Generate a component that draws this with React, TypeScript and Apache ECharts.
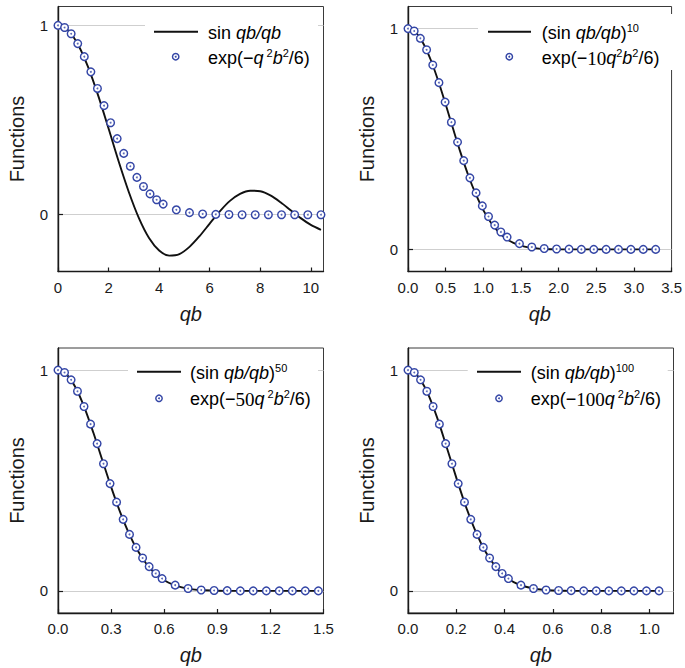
import React, { useEffect, useRef } from 'react';
import * as echarts from 'echarts';

// ---- data ----
// Circle heights (identical in all four panels)
const circleY = [1, 0.989, 0.956, 0.904, 0.835, 0.755, 0.667, 0.576, 0.486, 0.402, 0.324, 0.256, 0.197, 0.149, 0.11, 0.079, 0.056, 0.026, 0.011, 0.004, 0.002, 0.001, 0, 0, 0, 0, 0, 0, 0];

const p1CircleX = [0, 0.26, 0.52, 0.78, 1.04, 1.3, 1.56, 1.82, 2.08, 2.34, 2.6, 2.86, 3.12, 3.38, 3.64, 3.9, 4.16, 4.68, 5.2, 5.72, 6.24, 6.76, 7.28, 7.8, 8.32, 8.84, 9.36, 9.88, 10.4];
const p2CircleX = [0, 0.082, 0.164, 0.247, 0.329, 0.411, 0.493, 0.576, 0.658, 0.74, 0.822, 0.904, 0.987, 1.069, 1.151, 1.233, 1.316, 1.48, 1.644, 1.809, 1.973, 2.138, 2.302, 2.467, 2.631, 2.795, 2.96, 3.124, 3.289];
const p3CircleX = [0, 0.037, 0.074, 0.11, 0.147, 0.184, 0.221, 0.257, 0.294, 0.331, 0.368, 0.404, 0.441, 0.478, 0.515, 0.552, 0.588, 0.662, 0.735, 0.809, 0.882, 0.956, 1.03, 1.103, 1.177, 1.25, 1.324, 1.397, 1.471];
const p4CircleX = [0, 0.026, 0.052, 0.078, 0.104, 0.13, 0.156, 0.182, 0.208, 0.234, 0.26, 0.286, 0.312, 0.338, 0.364, 0.39, 0.416, 0.468, 0.52, 0.572, 0.624, 0.676, 0.728, 0.78, 0.832, 0.884, 0.936, 0.988, 1.04];

const p1LineX = [0, 0.4, 0.8, 1.2, 1.6, 2.0, 2.4, 2.8, 3.2, 3.6, 4.0, 4.4, 4.8, 5.2, 5.6, 6.0, 6.4, 6.8, 7.2, 7.6, 8.0, 8.4, 8.8, 9.2, 9.6, 10.0, 10.4];
const p1LineY = [1, 0.974, 0.897, 0.777, 0.625, 0.455, 0.281, 0.12, -0.018, -0.123, -0.189, -0.216, -0.208, -0.17, -0.113, -0.047, 0.018, 0.073, 0.11, 0.127, 0.124, 0.102, 0.066, 0.024, -0.018, -0.054, -0.08];

const p2LineX = [0, 0.1, 0.2, 0.3, 0.4, 0.5, 0.6, 0.7, 0.8, 0.9, 1.0, 1.1, 1.2, 1.3, 1.4, 1.5, 1.6, 1.7, 1.8, 2.0, 2.5, 3.0, 3.29];
const p2LineY = [1, 0.984, 0.935, 0.86, 0.765, 0.657, 0.545, 0.436, 0.336, 0.25, 0.178, 0.122, 0.08, 0.05, 0.03, 0.017, 0.009, 0.005, 0.002, 0.0004, 0, 0, 0];

const p3LineX = [0, 0.05, 0.1, 0.15, 0.2, 0.25, 0.3, 0.35, 0.4, 0.45, 0.5, 0.55, 0.6, 0.65, 0.7, 0.75, 0.8, 0.9, 1.0, 1.2, 1.47];
const p3LineY = [1, 0.979, 0.92, 0.829, 0.716, 0.593, 0.471, 0.359, 0.262, 0.183, 0.122, 0.078, 0.048, 0.028, 0.016, 0.008, 0.004, 0.001, 0, 0, 0];

const p4LineX = [0, 0.04, 0.08, 0.12, 0.16, 0.2, 0.24, 0.28, 0.32, 0.36, 0.4, 0.44, 0.48, 0.52, 0.56, 0.6, 0.7, 0.8, 1.04];
const p4LineY = [1, 0.974, 0.899, 0.787, 0.652, 0.513, 0.382, 0.27, 0.18, 0.114, 0.068, 0.039, 0.021, 0.011, 0.005, 0.002, 0.0003, 0, 0];

const yTickValues = [0, 1];

// ---- styling ----
const BLUE = '#3446a6';
const INK = '#1a1a1a';
const FONT = "'Liberation Sans', Arial, Helvetica, sans-serif";
const SERIF = "'Liberation Serif', 'Times New Roman', serif";

const rich = {
  n: { fontFamily: FONT, fontSize: 18, color: INK, lineHeight: 22, verticalAlign: 'middle' },
  i: { fontFamily: FONT, fontSize: 18, fontStyle: 'italic', color: INK, lineHeight: 22, verticalAlign: 'middle' },
  s: { fontFamily: SERIF, fontSize: 19, color: INK, lineHeight: 22, verticalAlign: 'middle' },
  sup: { fontFamily: FONT, fontSize: 11, color: INK, lineHeight: 11, verticalAlign: 'top' },
};

const panels = [
  {
    left: 58, top: 6.5, xMax: 10.5, xInterval: 2, digits: 0, hideMax: true, yMin: -0.3,
    lineX: p1LineX, lineY: p1LineY, circX: p1CircleX,
    lineLabel: '{n|sin }{i|qb/qb}',
    circLabel: '{n|exp(−}{i|q}{sup| 2}{i|b}{sup|2}{n|/6)}',
    lg: { rx: 145, ry: 14, rw: 173, rh: 56, l0: 154, l1: 198, ly: 31.7, cx: 175.7, cy: 56.7, tx: 208, t1: 33, t2: 58 },
  },
  {
    left: 408, top: 6.5, xMax: 3.5, xInterval: 0.5, digits: 1, hideMax: false, yMin: -0.1,
    lineX: p2LineX, lineY: p2LineY, circX: p2CircleX,
    lineLabel: '{n|(sin }{i|qb/qb}{n|)}{sup|10}',
    circLabel: '{n|exp(−}{s|10}{i|q}{sup|2}{i|b}{sup|2}{n|/6)}',
    lg: { rx: 478, ry: 14, rw: 195, rh: 56, l0: 488, l1: 531, ly: 31.7, cx: 509.3, cy: 56.7, tx: 541.7, t1: 33, t2: 58 },
  },
  {
    left: 58, top: 348, xMax: 1.5, xInterval: 0.3, digits: 1, hideMax: false, yMin: -0.1,
    lineX: p3LineX, lineY: p3LineY, circX: p3CircleX,
    lineLabel: '{n|(sin }{i|qb/qb}{n|)}{sup|50}',
    circLabel: '{n|exp(−}{s|50}{i|q}{sup| 2}{i|b}{sup|2}{n|/6)}',
    lg: { rx: 128, ry: 356, rw: 190, rh: 56, l0: 137, l1: 181, ly: 371.7, cx: 159, cy: 398.3, tx: 190, t1: 373, t2: 399 },
  },
  {
    left: 408, top: 348, xMax: 1.1, xInterval: 0.2, digits: 1, hideMax: true, yMin: -0.1,
    lineX: p4LineX, lineY: p4LineY, circX: p4CircleX,
    lineLabel: '{n|(sin }{i|qb/qb}{n|)}{sup|100}',
    circLabel: '{n|exp(−}{s|100}{i|q}{sup| 2}{i|b}{sup|2}{n|/6)}',
    lg: { rx: 467.7, ry: 356, rw: 200, rh: 56, l0: 477, l1: 521, ly: 371.7, cx: 499, cy: 398.3, tx: 530.7, t1: 373, t2: 399 },
  },
];

const GRID_W = 265.5;
const GRID_H = 265;

function buildOption() {
  const grid: any[] = [];
  const xAxis: any[] = [];
  const yAxis: any[] = [];
  const series: any[] = [];
  const graphic: any[] = [];

  panels.forEach((p, i) => {
    grid.push({
      left: p.left, top: p.top, width: GRID_W, height: GRID_H,
      show: true, borderColor: '#3a3a3a', borderWidth: 1, backgroundColor: 'transparent',
    });
    xAxis.push({
      gridIndex: i, type: 'value', min: 0, max: p.xMax, interval: p.xInterval,
      axisLine: { show: true, onZero: false, lineStyle: { color: INK, width: 1.4 } },
      axisTick: { show: true, inside: true, length: 4, lineStyle: { color: INK, width: 1.2 } },
      axisLabel: {
        fontFamily: FONT, fontSize: 15, color: INK, margin: 8, showMaxLabel: !p.hideMax,
        formatter: (v: number) => v.toFixed(p.digits),
      },
      splitLine: { show: false },
      name: 'qb', nameLocation: 'middle', nameGap: 32,
      nameTextStyle: { fontFamily: FONT, fontSize: 20, fontStyle: 'italic', color: INK },
    });
    yAxis.push({
      gridIndex: i, type: 'value', min: p.yMin, max: 1.1,
      axisLine: { show: true, onZero: false, lineStyle: { color: INK, width: 1.4 } },
      axisTick: { show: true, inside: true, length: 5, customValues: yTickValues, lineStyle: { color: INK, width: 1.2 } },
      axisLabel: { fontFamily: FONT, fontSize: 15, color: INK, margin: 10, customValues: yTickValues, formatter: (v: number) => String(v) },
      splitLine: { show: true, lineStyle: { color: '#cfcfcf', width: 1 } },
      name: 'Functions', nameLocation: 'middle', nameGap: 31,
      nameTextStyle: { fontFamily: FONT, fontSize: 20, color: INK },
    });
    series.push({
      type: 'line', name: 'line' + i, xAxisIndex: i, yAxisIndex: i,
      data: p.lineX.map((x, k) => [x, p.lineY[k]]),
      showSymbol: false, symbol: 'none', smooth: 0.3, silent: true,
      lineStyle: { color: '#111', width: 1.9 }, z: 2,
    });
    const pts = p.circX.map((x, k) => [x, circleY[k]]);
    series.push({
      type: 'scatter', name: 'ring' + i, xAxisIndex: i, yAxisIndex: i, data: pts,
      symbol: 'circle', symbolSize: 7.6, clip: false, silent: true,
      itemStyle: { color: '#ffffff', borderColor: BLUE, borderWidth: 1.45, opacity: 1 }, z: 3,
    });
    series.push({
      type: 'scatter', name: 'dot' + i, xAxisIndex: i, yAxisIndex: i, data: pts,
      symbol: 'circle', symbolSize: 1.9, clip: false, silent: true,
      itemStyle: { color: BLUE }, z: 4,
    });

    const g = p.lg;
    graphic.push(
      { type: 'rect', z: 20, silent: true, shape: { x: g.rx, y: g.ry, width: g.rw, height: g.rh }, style: { fill: '#ffffff' } },
      { type: 'line', z: 21, silent: true, shape: { x1: g.l0, y1: g.ly, x2: g.l1, y2: g.ly }, style: { stroke: '#111', lineWidth: 1.9 } },
      { type: 'circle', z: 21, silent: true, shape: { cx: g.cx, cy: g.cy, r: 3.2 }, style: { fill: '#fff', stroke: BLUE, lineWidth: 1.45 } },
      { type: 'circle', z: 22, silent: true, shape: { cx: g.cx, cy: g.cy, r: 0.95 }, style: { fill: BLUE } },
      { type: 'text', z: 21, silent: true, style: { x: g.tx, y: g.t1, text: p.lineLabel, rich, verticalAlign: 'middle', align: 'left' } },
      { type: 'text', z: 21, silent: true, style: { x: g.tx, y: g.t2, text: p.circLabel, rich, verticalAlign: 'middle', align: 'left' } },
    );
  });

  return {
    animation: false,
    backgroundColor: '#ffffff',
    textStyle: { fontFamily: FONT },
    grid, xAxis, yAxis, series, graphic,
  };
}

export default function App() {
  const ref = useRef<HTMLDivElement>(null);
  useEffect(() => {
    if (!ref.current) return;
    const chart = echarts.init(ref.current, undefined, { renderer: 'svg' });
    chart.setOption(buildOption() as any);
    return () => chart.dispose();
  }, []);
  return (
    <div
      ref={ref}
      style={{ position: 'fixed', left: 0, top: 0, width: 685, height: 668, background: '#fff' }}
    />
  );
}
